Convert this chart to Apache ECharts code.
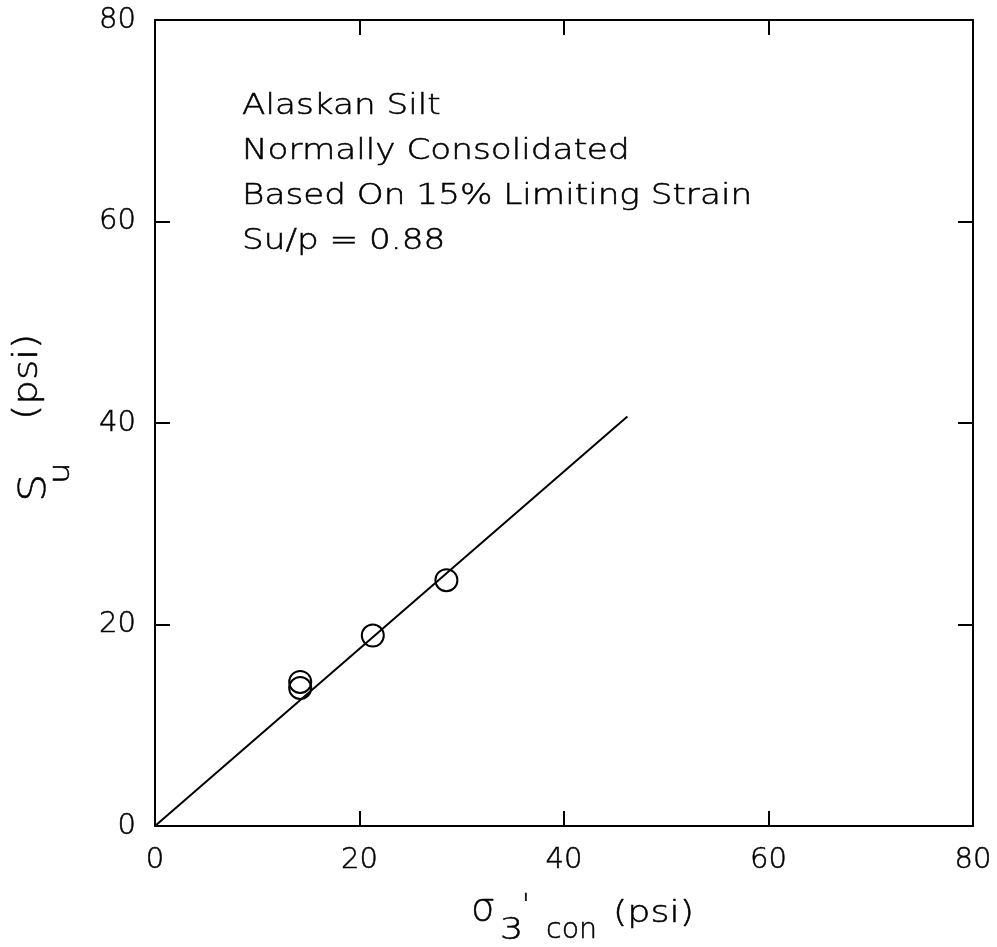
<!DOCTYPE html>
<html>
<head>
<meta charset="utf-8">
<script src="https://cdn.jsdelivr.net/npm/echarts@6/dist/echarts.min.js"></script>
<style>
  html, body { margin: 0; padding: 0; background: #fff; }
  #chart { width: 997px; height: 947px; }
</style>
</head>
<body>
<div id="chart"></div>
<script>
// Measured undrained strength vs. consolidation stress
const sigma3Con = [14.2, 14.2, 21.3, 28.5];
const suValues  = [13.7, 14.3, 18.9, 24.4];

// Su/p ratio and extent of the fitted line
const suRatio = 0.88;
const fitX = [0, 46.2];

const axisTicks = [0, 20, 40, 60, 80];

const notes = [
  'Alaskan Silt',
  'Normally Consolidated',
  'Based On 15% Limiting Strain',
  'Su/p = 0.88'
];

const FONT = 'DejaVu Sans';
const INK = '#000';
const WIDE = 1.18; // horizontal stretch for the wide plotter lettering

const points = sigma3Con.map((x, i) => [x, suValues[i]]);
const fitLine = fitX.map(x => [x, suRatio * x]);

const chart = echarts.init(document.getElementById('chart'), null, { renderer: 'canvas' });

const frameLine = { show: true, onZero: false, lineStyle: { color: INK, width: 2 } };
const inTicks = { show: true, inside: true, length: 15, lineStyle: { color: INK, width: 2 } };

const baseAxis = {
  min: axisTicks[0],
  max: axisTicks[axisTicks.length - 1],
  interval: axisTicks[1] - axisTicks[0],
  splitLine: { show: false },
  axisLine: frameLine,
  axisTick: inTicks
};

const labelStyle = (margin) => ({
  color: INK, fontFamily: FONT, fontWeight: 200, fontSize: 29, margin: margin,
  textBorderColor: INK, textBorderWidth: 0.5
});

const txt = (text, size) => ({
  text: text, fill: INK, stroke: INK, lineWidth: 0.5,
  font: '200 ' + size + 'px "' + FONT + '"'
});

chart.setOption({
  animation: false,
  backgroundColor: '#fff',
  grid: { left: 155, right: 24, top: 20, bottom: 121, containLabel: false },
  xAxis: [
    Object.assign({}, baseAxis, { type: 'value', position: 'bottom', axisLabel: labelStyle(20) }),
    Object.assign({}, baseAxis, { type: 'value', position: 'top', axisLabel: { show: false } })
  ],
  yAxis: [
    Object.assign({}, baseAxis, { type: 'value', position: 'left', axisLabel: labelStyle(19) }),
    Object.assign({}, baseAxis, { type: 'value', position: 'right', axisLabel: { show: false } })
  ],
  series: [
    {
      type: 'line',
      data: fitLine,
      symbol: 'none',
      lineStyle: { color: INK, width: 2 },
      silent: true,
      z: 2
    },
    {
      // open rings: the fitted line shows through them
      type: 'scatter',
      data: points,
      symbol: 'circle',
      symbolSize: 22,
      itemStyle: { color: 'rgba(0,0,0,0)', borderColor: INK, borderWidth: 2, opacity: 1 },
      z: 3
    }
  ],
  graphic: [
    ...notes.map((t, i) => ({
      type: 'text',
      x: 242,
      y: 92 + i * 45,
      scaleX: WIDE,
      style: txt(t, 29)
    })),
    // x-axis title: sigma'_3,con (psi)
    { type: 'text', x: 471, y: 891, style: txt('σ', 38) },
    { type: 'text', x: 500, y: 915, scaleX: WIDE, style: txt('3', 31) },
    { type: 'text', x: 522, y: 893, style: txt("'", 28) },
    { type: 'text', x: 546, y: 916, scaleX: 0.98, style: txt('con', 29) },
    { type: 'text', x: 613, y: 898, scaleX: WIDE, style: txt('(psi)', 31) },
    // y-axis title: S_u (psi)
    { type: 'text', x: 16, y: 502, rotation: Math.PI / 2, scaleX: WIDE, style: txt('S', 38) },
    { type: 'text', x: 47, y: 484, rotation: Math.PI / 2, scaleX: WIDE, style: txt('u', 29) },
    { type: 'text', x: 12, y: 420, rotation: Math.PI / 2, scaleX: WIDE, style: txt('(psi)', 33) }
  ]
});
</script>
</body>
</html>
